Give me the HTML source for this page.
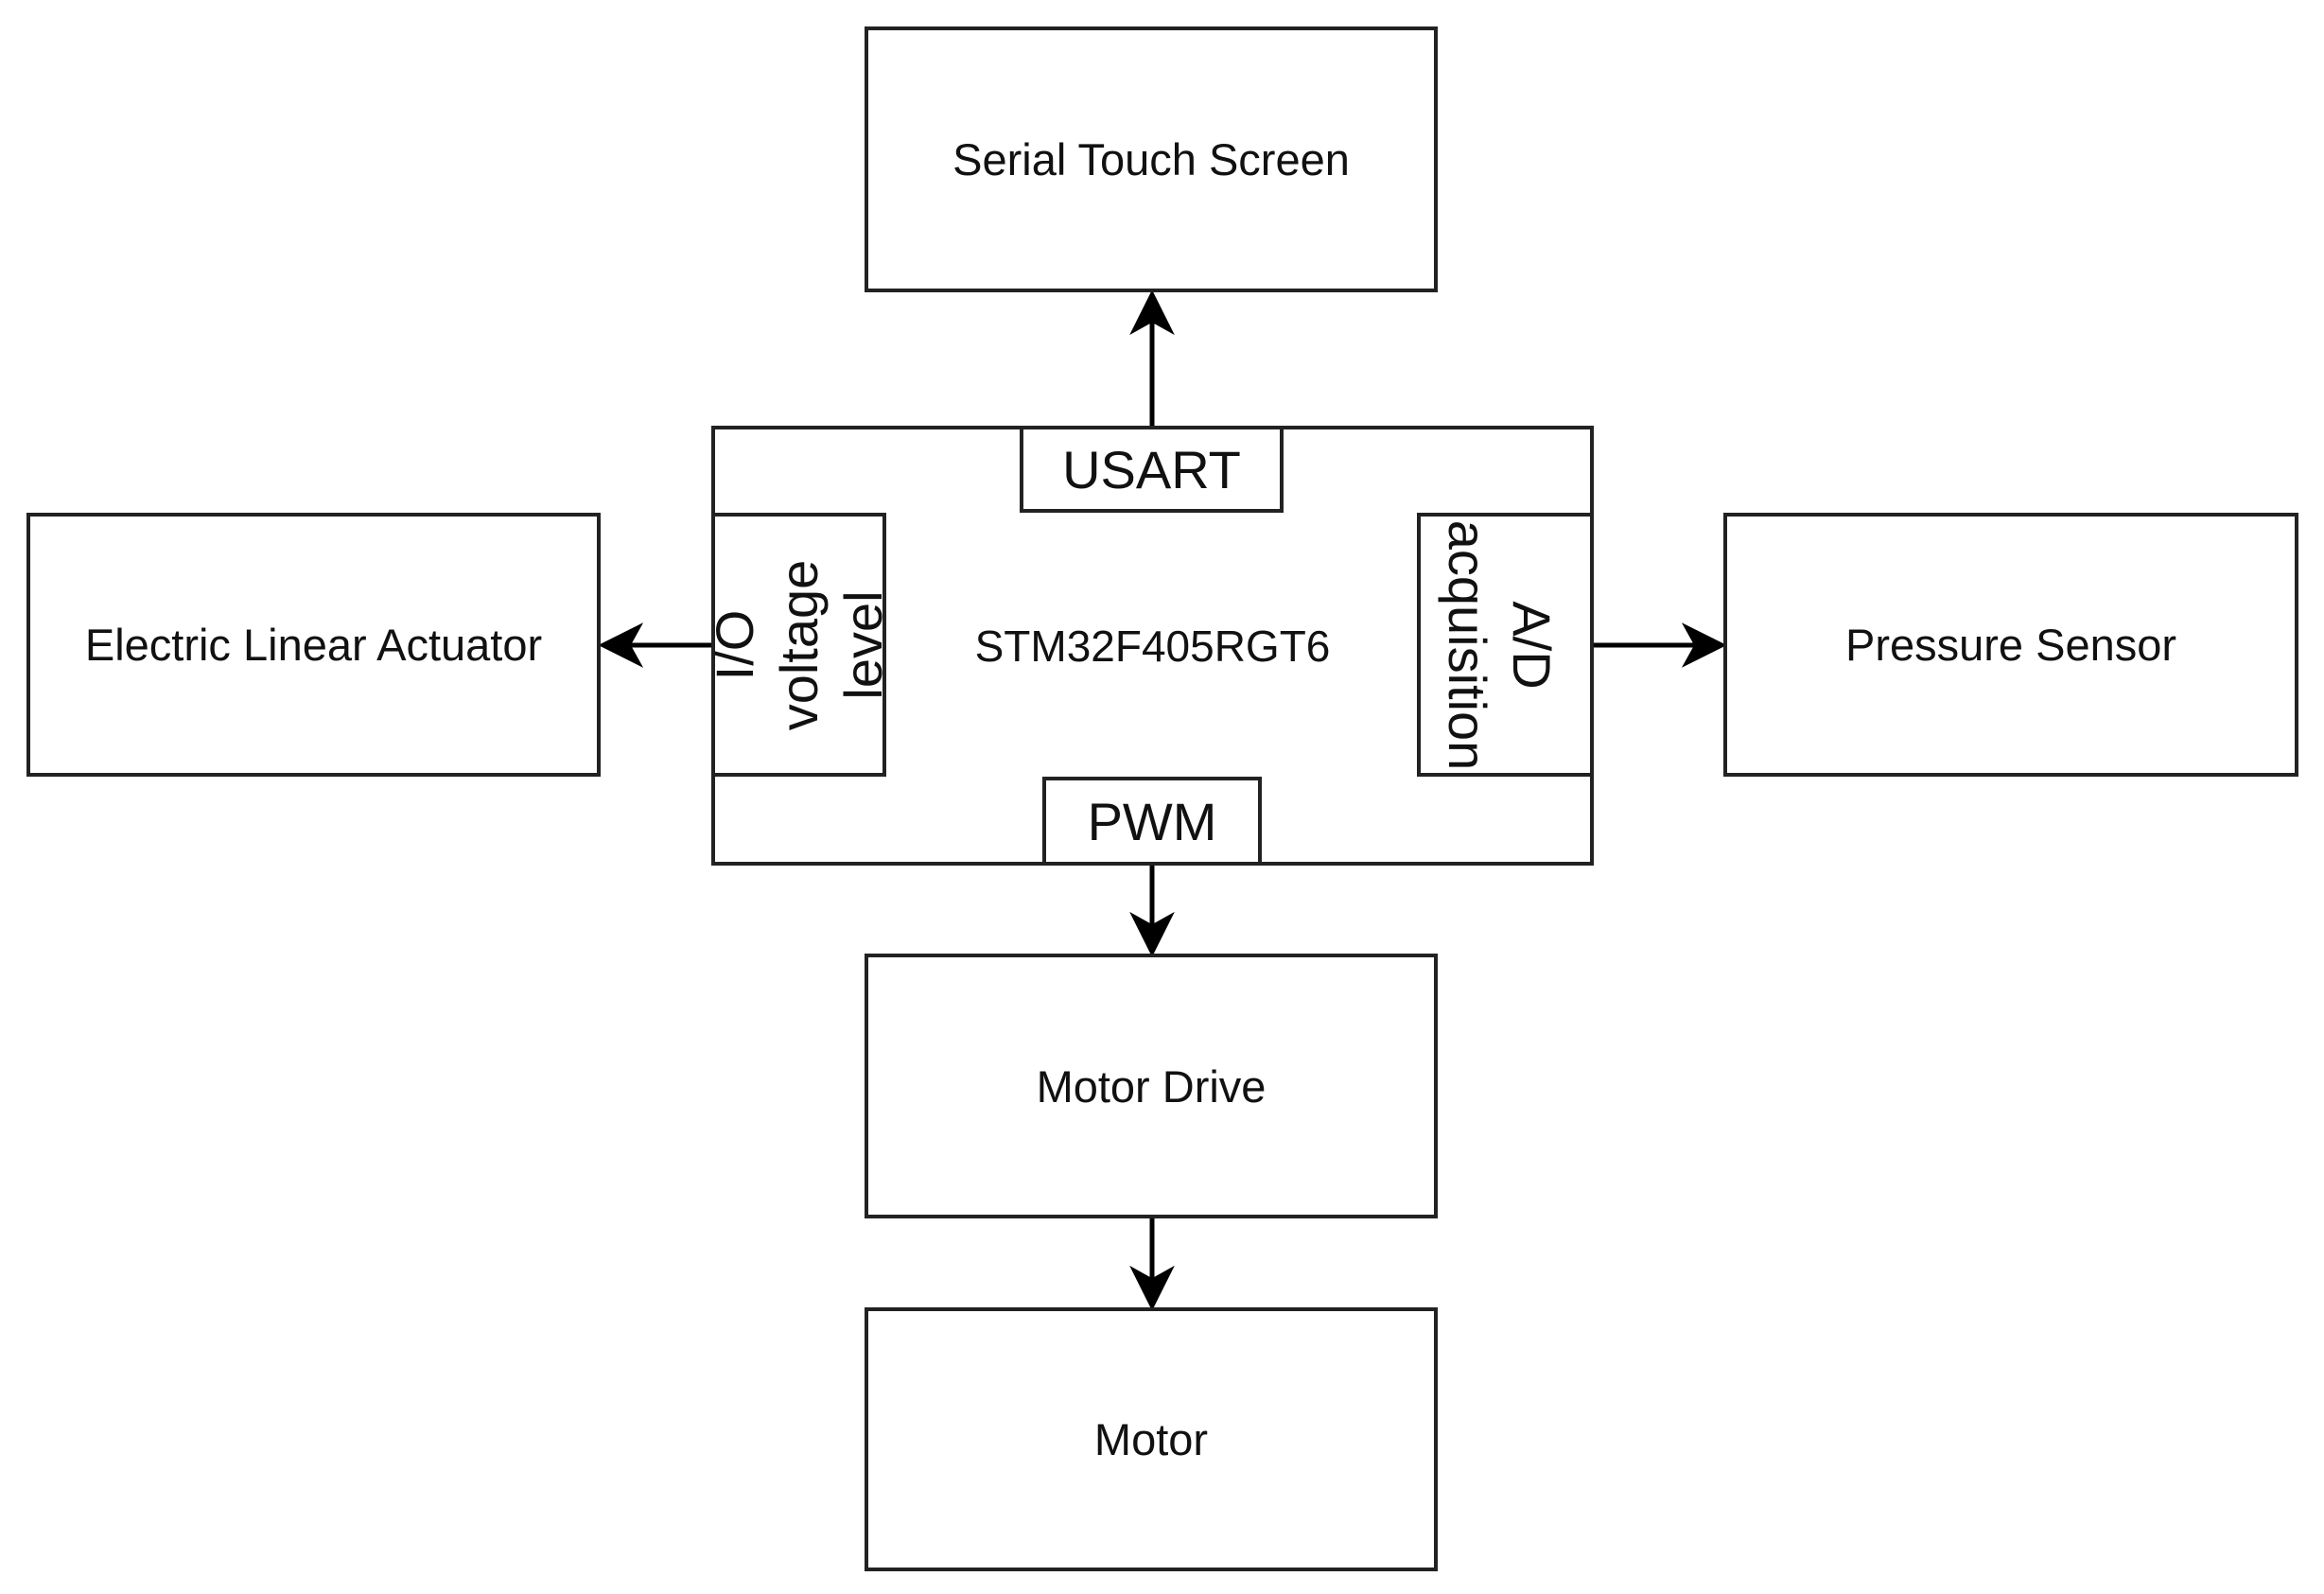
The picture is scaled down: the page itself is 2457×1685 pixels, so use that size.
<!DOCTYPE html>
<html><head><meta charset="utf-8"><style>
html,body{margin:0;padding:0;background:#fff;}
body{width:2457px;height:1685px;position:relative;overflow:hidden;font-family:"Liberation Sans",sans-serif;color:#111;}
.b{position:absolute;box-sizing:border-box;border:4px solid #222;background:#fff;display:flex;align-items:center;justify-content:center;text-align:center;}
.t{font-size:47px;}
.s{font-size:56px;}
.rot{position:absolute;font-size:56px;line-height:68px;text-align:center;white-space:nowrap;}
</style></head><body>
<svg width="2457" height="1685" style="position:absolute;left:0;top:0">
<g stroke="#000" stroke-width="5" fill="#000">
<line x1="1218" y1="450" x2="1218" y2="330"/>
<path d="M1218 312 L1236 348 L1218 338 L1200 348 Z"/>
<line x1="1218" y1="915" x2="1218" y2="990"/>
<path d="M1218 1006 L1236 970 L1218 980 L1200 970 Z"/>
<line x1="1218" y1="1288" x2="1218" y2="1365"/>
<path d="M1218 1380 L1236 1344 L1218 1354 L1200 1344 Z"/>
<line x1="752" y1="682" x2="655" y2="682"/>
<path d="M638 682 L674 664 L664 682 L674 700 Z"/>
<line x1="1685" y1="682" x2="1800" y2="682"/>
<path d="M1820 682 L1784 664 L1794 682 L1784 700 Z"/>
</g></svg>
<div class="b t" style="left:914px;top:28px;width:606px;height:281px">Serial Touch Screen</div>
<div class="b" style="left:752px;top:450px;width:933px;height:465px;font-size:46px">STM32F405RGT6</div>
<div class="b s" style="left:1078px;top:450px;width:279px;height:92px">USART</div>
<div class="b s" style="left:1102px;top:821px;width:232px;height:94px">PWM</div>
<div class="b" style="left:752px;top:542px;width:185px;height:279px"></div>
<div class="b" style="left:1498px;top:542px;width:187px;height:279px"></div>
<div class="rot" style="left:705px;top:580px;width:280px;height:204px;transform:rotate(-90deg);">I/O<br>voltage<br>level</div>
<div class="rot" style="left:1445px;top:614px;width:280px;height:136px;transform:rotate(90deg);">A/D<br>acquisition</div>
<div class="b t" style="left:28px;top:542px;width:607px;height:279px">Electric Linear Actuator</div>
<div class="b t" style="left:1822px;top:542px;width:608px;height:279px">Pressure Sensor</div>
<div class="b t" style="left:914px;top:1008px;width:606px;height:280px">Motor Drive</div>
<div class="b t" style="left:914px;top:1382px;width:606px;height:279px">Motor</div>
</body></html>
